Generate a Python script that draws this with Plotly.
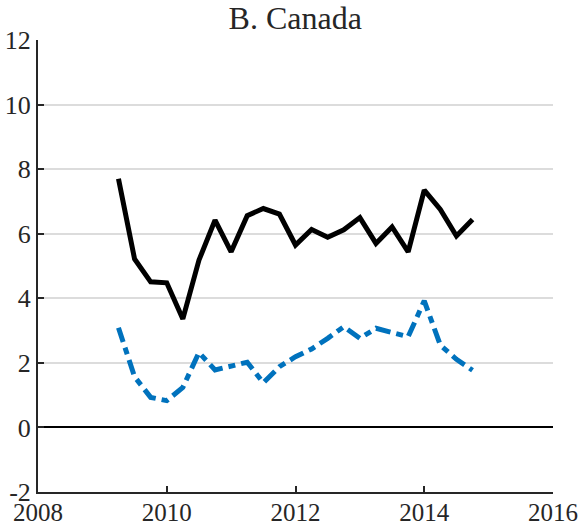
import plotly.graph_objects as go

quarters = [2009.25, 2009.5, 2009.75, 2010.0, 2010.25, 2010.5, 2010.75, 2011.0,
            2011.25, 2011.5, 2011.75, 2012.0, 2012.25, 2012.5, 2012.75, 2013.0,
            2013.25, 2013.5, 2013.75, 2014.0, 2014.25, 2014.5, 2014.75]
black_series = [7.7, 5.22, 4.51, 4.48, 3.36, 5.18, 6.42, 5.44,
                6.56, 6.78, 6.61, 5.65, 6.13, 5.89, 6.12, 6.5,
                5.7, 6.21, 5.44, 7.35, 6.75, 5.93, 6.44]
blue_series = [3.09, 1.57, 0.93, 0.83, 1.24, 2.32, 1.78, 1.9,
               2.02, 1.38, 1.88, 2.19, 2.43, 2.76, 3.12, 2.76,
               3.07, 2.94, 2.81, 3.92, 2.55, 2.11, 1.77]

x_ticks = [2008, 2010, 2012, 2014, 2016]
y_ticks = [-2, 0, 2, 4, 6, 8, 10, 12]
y_ticktext = ["-2", "0", "2", "4", "6", "8", "10", "12"]

font_family = "Liberation Serif, DejaVu Serif, serif"

fig = go.Figure()
fig.add_trace(go.Scatter(x=quarters, y=black_series, mode="lines",
                         line=dict(color="black", width=5), showlegend=False))
fig.add_trace(go.Scatter(x=quarters, y=blue_series, mode="lines",
                         line=dict(color="#0072BD", width=5, dash="15px,6px,7px,6px"),
                         showlegend=False))

fig.update_layout(
    width=580, height=529,
    margin=dict(l=38, r=27, t=40, b=37),
    paper_bgcolor="white", plot_bgcolor="white",
    font=dict(family=font_family, size=25, color="#262626"),
    title=dict(text="B. Canada", x=0.509, xanchor="center", y=0.966, yanchor="middle",
               font=dict(family=font_family, size=32, color="#262626")),
    xaxis=dict(range=[2008, 2016], tickvals=x_ticks, ticks="inside", ticklen=6,
               tickwidth=2, tickcolor="#262626", showline=True, linecolor="#262626",
               linewidth=2, showgrid=False, zeroline=False, automargin=False,
               ticklabelstandoff=-3, tickfont=dict(size=25)),
    yaxis=dict(range=[-2, 12], tickvals=y_ticks, ticktext=y_ticktext, ticks="inside",
               ticklen=6, tickwidth=2, tickcolor="#262626", showline=True,
               linecolor="#262626", linewidth=2, showgrid=True, gridcolor="#dcdcdc",
               gridwidth=2, zeroline=True, zerolinecolor="black", zerolinewidth=2,
               automargin=False, tickfont=dict(size=26)),
)

fig.write_html("out.html", config={"displayModeBar": False},
               post_script="document.body.style.margin='0';document.body.style.overflow='hidden';")
